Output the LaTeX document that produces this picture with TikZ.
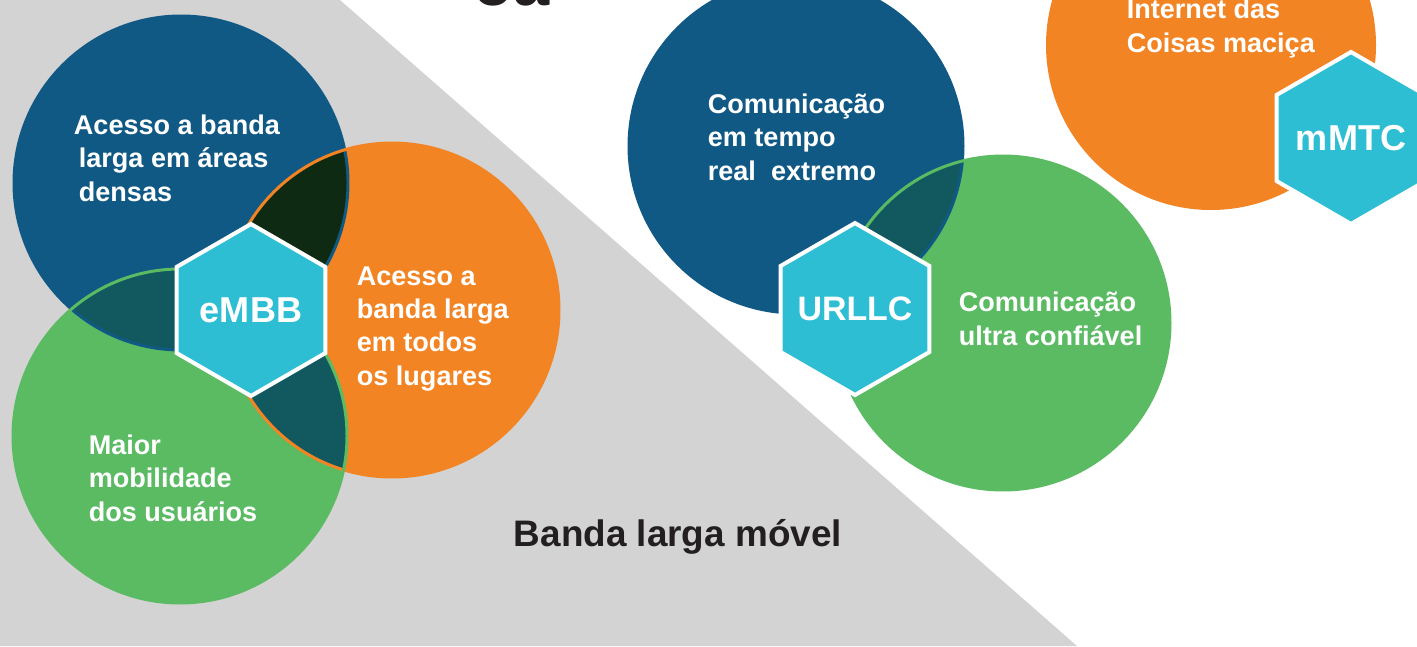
\documentclass[tikz,border=0pt]{standalone}
\usepackage{fontspec}
\setmainfont{Liberation Sans}
\usetikzlibrary{shapes.geometric}
\definecolor{azul}{HTML}{115985}
\definecolor{laranja}{HTML}{F38424}
\definecolor{verde}{HTML}{5ABB63}
\definecolor{ciano}{HTML}{2DBED4}
\definecolor{escuro}{HTML}{0F2A12}
\definecolor{petroleo}{HTML}{11595F}
\definecolor{cinza}{HTML}{D3D3D3}
\definecolor{preto}{HTML}{231F20}
\begin{document}
\begin{tikzpicture}[x=0.02cm,y=0.02cm,
 hexa/.style={regular polygon,regular polygon sides=6,shape border rotate=90,minimum size=3.44cm,inner sep=0pt,fill=ciano,draw=white,line width=2.3pt,text=white,font=\fontsize{20.5}{24}\selectfont\bfseries},
 rotulo/.style={anchor=base west,align=left,inner sep=0pt,text=white,font=\fontsize{15.4}{18.8}\selectfont\bfseries},
 borda/.style={line width=1.7pt}]
 \useasboundingbox (0,0) rectangle (1417,-646);
 \clip (0,0) rectangle (1417,-646);
 \fill[cinza](0,0)--(340,0)--(1077,-646)--(0,-646)--cycle;
 \node[anchor=base west,inner sep=0pt,text=preto,font=\fontsize{37}{40}\selectfont\bfseries] (titulo) at (473,-5) {oa};
 % centros dos circulos
 \coordinate (densas) at (181,-183);
 \coordinate (lugares) at (392,-310);
 \coordinate (mobilidade) at (180,-436);
 \coordinate (extremo) at (796,-146);
 \coordinate (confiavel) at (1003,-323);
 \coordinate (macica) at (1211,-45);
 \fill[azul](densas) circle (167);
 \fill[laranja](lugares) circle (167);
 \fill[verde](mobilidade) circle (167);
 \fill[azul](extremo) circle (167);
 \fill[verde](confiavel) circle (167);
 \fill[laranja](macica) circle (165);
 % intersecoes
 \begin{scope}\clip (densas) circle (167); \fill[escuro](lugares) circle (167);\end{scope}
 \begin{scope}\clip (densas) circle (167); \fill[petroleo](mobilidade) circle (167);\end{scope}
 \begin{scope}\clip (lugares) circle (167); \fill[petroleo](mobilidade) circle (167);\end{scope}
 \begin{scope}\clip (extremo) circle (167); \fill[petroleo](confiavel) circle (167);\end{scope}
 \draw[borda,azul](densas) circle (167);
 \draw[borda,laranja](lugares) circle (167);
 \draw[borda,verde](mobilidade) circle (167);
 \draw[borda,azul](extremo) circle (167);
 \draw[borda,verde](confiavel) circle (167);
 % hexagonos
 \node[hexa] (embb) at (251,-310) {\makebox[0pt]{eMBB}};
 \node[hexa,font=\fontsize{19.3}{23}\selectfont\bfseries] (urllc) at (855,-309) {\makebox[0pt]{URLLC}};
 \node[hexa] (mmtc) at (1351,-138) {\makebox[0pt]{mMTC}};
 % textos (base = ultima linha)
 \node[rotulo] (tdensas) at (78.5,-201) {\hspace*{-2.8pt}Acesso a banda\\larga em áreas\\densas};
 \node[rotulo] (tlugares) at (356.5,-385) {Acesso a\\banda larga\\em todos\\os lugares};
 \node[rotulo] (tmobilidade) at (88.5,-521) {Maior\\mobilidade\\dos usuários};
 \node[rotulo] (textremo) at (707.5,-180) {Comunicação\\em tempo\\real\ \ extremo};
 \node[rotulo] (tconfiavel) at (958.5,-345) {Comunicação\\ultra confiável};
 \node[rotulo] (tmacica) at (1126.5,-52) {Internet das\\Coisas maciça};
 \node[anchor=base west,inner sep=0pt,text=preto,font=\fontsize{21}{25}\selectfont\bfseries] (banda) at (513.5,-546) {Banda larga móvel};
\end{tikzpicture}
\end{document}
